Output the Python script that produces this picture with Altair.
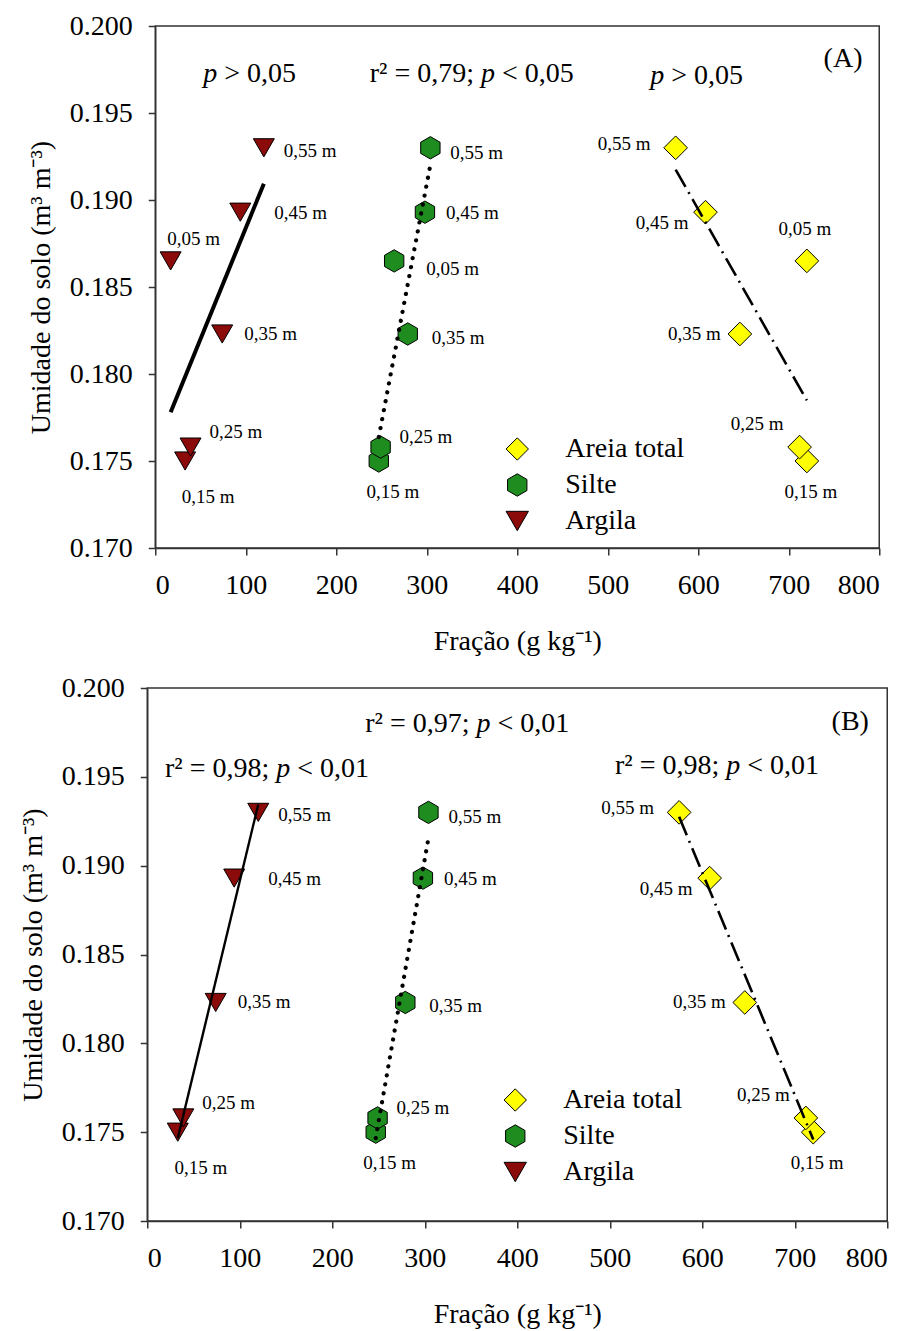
import altair as alt
import pandas as pd

# ---------------- data ----------------
series = ["Areia total", "Silte", "Argila"]
depths = ["0,05 m", "0,15 m", "0,25 m", "0,35 m", "0,45 m", "0,55 m"]
umidade = [0.1865, 0.1750, 0.1758, 0.1823, 0.1893, 0.1930]
areia = [720, 720, 712, 646, 608, 575]
silte = [264, 247, 249, 279, 298, 304]
argila = [17, 33, 39, 74, 94, 120]

fracoes = {"Areia total": areia, "Silte": silte, "Argila": argila}

rows = []
for s in series:
    for d, u, f in zip(depths, umidade, fracoes[s]):
        rows.append({"serie": s, "prof": d, "umidade": u, "fracao": f, "key": f"{s}|{d}"})
df = pd.DataFrame(rows)

# annotation texts: (x, y of anchor in data units, left text, italic text, right text)
ann_A = [
    (53, 0.19724, "", "p", "> 0,05"),
    (360, 0.19724, "r² = 0,79;", "p", "< 0,05"),
    (547, 0.19710, "", "p", "> 0,05"),
]
ann_B = [
    (356, 0.19797, "r² = 0,97;", "p", "< 0,01"),
    (139.5, 0.19544, "r² = 0,98;", "p", "< 0,01"),
    (626, 0.19561, "r² = 0,98;", "p", "< 0,01"),
]
panel_tag = {"A": (760, 0.1981, "(A)"), "B": (760, 0.1981, "(B)")}

FONT = "Liberation Serif"
HEX = "M0,-1L0.866,-0.5L0.866,0.5L0,1L-0.866,0.5L-0.866,-0.5Z"
fill_range = ["#FFFF00", "#1E8C1E", "#8B0A0A"]
shape_range = ["diamond", HEX, "triangle-down"]
size_range = [560, 440, 720]

# depth label placement (align, dx, dy) relative to point
PLACE = {
    "Argila": {"0,05 m": ("center", 23, -22), "0,15 m": ("center", 23, 36),
               "0,25 m": ("left", 19, -15), "0,35 m": ("left", 22, 0),
               "0,45 m": ("left", 34, 1), "0,55 m": ("left", 20, 3)},
    "Silte": {"0,05 m": ("left", 32, 8), "0,15 m": ("center", 14, 31),
              "0,25 m": ("left", 19, -10), "0,35 m": ("left", 24, 4),
              "0,45 m": ("left", 21, 1), "0,55 m": ("left", 20, 5)},
    "Areia total": {"0,05 m": ("center", -2, -32), "0,15 m": ("center", 4, 31),
                    "0,25 m": ("right", -16, -23), "0,35 m": ("right", -19, 0),
                    "0,45 m": ("right", -17, 11), "0,55 m": ("right", -25, -4)},
}

LINES = {
    "A": {"Argila": dict(strokeWidth=4),
          "Silte": dict(strokeWidth=4.2, strokeDash=[0.1, 9], strokeCap="round"),
          "Areia total": dict(strokeWidth=2.6, strokeDash=[20, 6, 2, 6])},
    "B": {"Argila": dict(strokeWidth=2.4),
          "Silte": dict(strokeWidth=4.2, strokeDash=[0.1, 9], strokeCap="round"),
          "Areia total": dict(strokeWidth=2.6, strokeDash=[20, 6, 2, 6])},
}


def panel(name, data, anns, width, height, legend_xy):
    xs = alt.X("fracao:Q", scale=alt.Scale(domain=[0, 800], nice=False),
               axis=alt.Axis(values=list(range(0, 801, 100)), title="Fração (g kg⁻¹)"))
    ys = alt.Y("umidade:Q", scale=alt.Scale(domain=[0.170, 0.200], nice=False, zero=False),
               axis=alt.Axis(values=[0.170, 0.175, 0.180, 0.185, 0.190, 0.195, 0.200],
                             format=".3f", title="Umidade do solo (m³ m⁻³)"))
    base = alt.Chart(data)

    points = base.mark_point(filled=True, stroke="black", strokeWidth=1, opacity=1).encode(
        x=xs, y=ys,
        color=alt.Color("serie:N", scale=alt.Scale(domain=series, range=fill_range),
                        legend=alt.Legend(title=None, orient="none",
                                          legendX=legend_xy[0], legendY=legend_xy[1],
                                          labelFont=FONT, labelFontSize=28, labelColor="black",
                                          symbolSize=500, symbolStrokeColor="black",
                                          symbolStrokeWidth=1, labelOffset=34,
                                          rowPadding=8)),
        shape=alt.Shape("serie:N", scale=alt.Scale(domain=series, range=shape_range)),
        size=alt.Size("serie:N", scale=alt.Scale(domain=series, range=size_range), legend=None),
    )

    layers = [points]
    for s in series:
        layers.append(
            base.transform_filter(alt.datum.serie == s)
            .transform_regression("fracao", "umidade")
            .mark_line(color="black", **LINES[name][s])
            .encode(x="fracao:Q", y="umidade:Q")
        )

    groups = {}
    for s, d in PLACE.items():
        for dep, p in d.items():
            groups.setdefault(p, []).append(f"{s}|{dep}")
    for (align, dx, dy), keys in groups.items():
        layers.append(
            base.transform_filter(alt.FieldOneOfPredicate(field="key", oneOf=keys))
            .mark_text(align=align, baseline="middle", dx=dx, dy=dy, font=FONT,
                       fontSize=19, color="black")
            .encode(x="fracao:Q", y="umidade:Q", text="prof:N")
        )

    ann_df = pd.DataFrame([{"x": a[0], "y": a[1], "l": a[2], "p": a[3], "r": a[4]} for a in anns])
    ab = alt.Chart(ann_df)
    layers.append(ab.mark_text(align="right", baseline="middle", dx=-7, font=FONT, fontSize=28,
                               color="black").encode(x="x:Q", y="y:Q", text="l:N"))
    layers.append(ab.mark_text(align="left", baseline="middle", dx=0, font=FONT, fontSize=28,
                               fontStyle="italic", color="black").encode(x="x:Q", y="y:Q", text="p:N"))
    layers.append(ab.mark_text(align="left", baseline="middle", dx=21, font=FONT, fontSize=28,
                               color="black").encode(x="x:Q", y="y:Q", text="r:N"))

    tx, ty, tt = panel_tag[name]
    tag_df = pd.DataFrame([{"x": tx, "y": ty, "t": tt}])
    layers.append(alt.Chart(tag_df).mark_text(align="center", baseline="middle", font=FONT,
                                              fontSize=28, color="black")
                  .encode(x="x:Q", y="y:Q", text="t:N"))

    return alt.layer(*layers).properties(width=width, height=height)


dfB = df[df["prof"] != "0,05 m"].reset_index(drop=True)

chartA = panel("A", df, ann_A, 724, 522, (348, 409))
chartB = panel("B", dfB, ann_B, 740, 533, (354, 398))

chart = (
    alt.vconcat(chartA, chartB, spacing=17, center=True)
    .resolve_legend(color="independent", shape="independent")
    .properties(padding={"left": 18, "top": 11, "right": 5, "bottom": 5})
    .configure_view(stroke="#333333", strokeWidth=1.5)
    .configure_axis(
        grid=False, labelFont=FONT, labelFontSize=28, labelColor="black",
        titleFont=FONT, titleFontSize=28, titleFontWeight="normal", titleColor="black",
        domainColor="#333333", domainWidth=1.5, tickColor="#333333", tickWidth=1.5,
        tickSize=7, labelPadding=16,
    )
    .configure_axisX(titlePadding=28)
    .configure_axisY(titlePadding=14)
)

chart.save("out.html", embed_options={"renderer": "svg", "actions": False})
